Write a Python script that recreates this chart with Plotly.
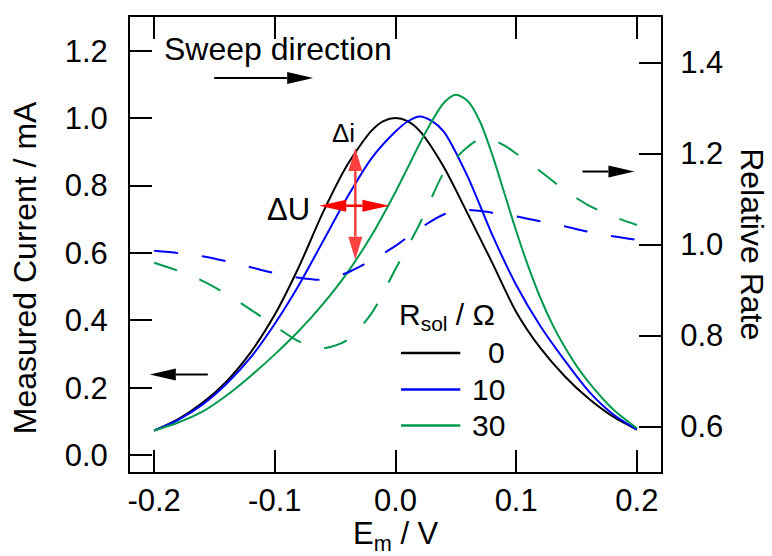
import plotly.graph_objects as go

# ---------------- data ----------------
x_tick_vals = [-0.2, -0.1, 0.0, 0.1, 0.2]
x_tick_text = ["-0.2", "-0.1", "0.0", "0.1", "0.2"]
yl_tick_vals = [0.0, 0.2, 0.4, 0.6, 0.8, 1.0, 1.2]
yl_tick_text = ["0.0", "0.2", "0.4", "0.6", "0.8", "1.0", "1.2"]
yr_tick_vals = [0.6, 0.8, 1.0, 1.2, 1.4]
yr_tick_text = ["0.6", "0.8", "1.0", "1.2", "1.4"]

series_names = ["0", "10", "30"]
series_colors = ["#000000", "#0000ff", "#009a4e"]

# Measured current (left axis), mA
E_black = [-0.20, -0.18, -0.16, -0.14, -0.12, -0.10, -0.08, -0.06, -0.04, -0.02, -0.01, 0.00,
           0.01, 0.02, 0.04, 0.06, 0.08, 0.10, 0.12, 0.14, 0.16, 0.18, 0.20]
I_black = [0.073, 0.107, 0.155, 0.219, 0.305, 0.417, 0.559, 0.721, 0.861, 0.962, 0.991, 1.000,
           0.991, 0.962, 0.855, 0.715, 0.572, 0.425, 0.318, 0.235, 0.168, 0.115, 0.076]

E_blue = [-0.20, -0.18, -0.16, -0.14, -0.12, -0.10, -0.08, -0.06, -0.04, -0.02, 0.00, 0.01,
          0.02, 0.03, 0.04, 0.06, 0.08, 0.10, 0.12, 0.14, 0.16, 0.18, 0.20]
I_blue = [0.073, 0.105, 0.150, 0.212, 0.290, 0.390, 0.505, 0.635, 0.765, 0.880, 0.960, 0.990,
          1.005, 0.992, 0.960, 0.825, 0.655, 0.505, 0.383, 0.282, 0.190, 0.122, 0.076]

E_green = [-0.20, -0.18, -0.16, -0.14, -0.12, -0.10, -0.08, -0.06, -0.04, -0.02, 0.00, 0.01, 0.02,
           0.03, 0.04, 0.05, 0.06, 0.07, 0.08, 0.09, 0.10, 0.11, 0.12, 0.13, 0.14, 0.15, 0.16, 0.18, 0.20]
I_green = [0.073, 0.097, 0.129, 0.177, 0.235, 0.299, 0.369, 0.449, 0.541, 0.651, 0.781, 0.852, 0.924,
           0.990, 1.045, 1.069, 1.050, 0.990, 0.893, 0.780, 0.665, 0.560, 0.467, 0.388, 0.322, 0.265,
           0.217, 0.137, 0.080]

# Relative rate (right axis)
E_rate_blue = [-0.20, -0.18, -0.16, -0.14, -0.12, -0.10, -0.08, -0.06, -0.04, -0.02, 0.00, 0.02,
               0.04, 0.06, 0.08, 0.10, 0.12, 0.14, 0.16, 0.18, 0.20]
R_blue = [0.986, 0.981, 0.974, 0.963, 0.950, 0.937, 0.927, 0.923, 0.938, 0.965, 0.997, 1.035,
          1.066, 1.076, 1.070, 1.062, 1.051, 1.040, 1.028, 1.018, 1.010]

E_rate_green = [-0.20, -0.18, -0.16, -0.14, -0.12, -0.10, -0.08, -0.06, -0.04, -0.02, 0.00, 0.02,
                0.04, 0.05, 0.06, 0.07, 0.08, 0.09, 0.10, 0.12, 0.14, 0.16, 0.18, 0.20]
R_green = [0.960, 0.942, 0.920, 0.891, 0.857, 0.821, 0.787, 0.772, 0.790, 0.848, 0.946, 1.045,
           1.158, 1.190, 1.215, 1.232, 1.230, 1.218, 1.200, 1.161, 1.120, 1.086, 1.062, 1.043]

FONT = "Liberation Sans, Arial, sans-serif"
FS = 31

fig = go.Figure()

for E, I, c, n in [(E_black, I_black, series_colors[0], series_names[0]),
                   (E_blue, I_blue, series_colors[1], series_names[1]),
                   (E_green, I_green, series_colors[2], series_names[2])]:
    fig.add_trace(go.Scatter(x=E, y=I, mode="lines", name=n,
                             line=dict(color=c, width=2, shape="spline", smoothing=0.8)))

for E, R, c in [(E_rate_blue, R_blue, series_colors[1]), (E_rate_green, R_green, series_colors[2])]:
    fig.add_trace(go.Scatter(x=E, y=R, mode="lines", yaxis="y2", showlegend=False,
                             line=dict(color=c, width=2, dash="24px,24px", shape="spline", smoothing=0.8)))

axis_common = dict(showgrid=False, zeroline=False, showline=True, linecolor="black", linewidth=2,
                   ticks="inside", ticklen=22, tickwidth=2, tickcolor="black",
                   tickfont=dict(family=FONT, size=FS, color="black"))

fig.update_layout(
    width=772, height=556,
    margin=dict(l=130, r=111, t=17, b=84),
    paper_bgcolor="white", plot_bgcolor="white",
    showlegend=False,
    font=dict(family=FONT, size=FS, color="black"),
    xaxis=dict(range=[-0.22, 0.22], tickvals=x_tick_vals, ticktext=x_tick_text,
               mirror="ticks", ticklabelstandoff=0, **axis_common),
    yaxis=dict(range=[-0.05, 1.3], tickvals=yl_tick_vals, ticktext=yl_tick_text,
               ticklabelstandoff=14, **axis_common),
    yaxis2=dict(range=[0.5, 1.5], tickvals=yr_tick_vals, ticktext=yr_tick_text,
                overlaying="y", side="right", ticklabelstandoff=11, **axis_common),
)

shapes = []


def arrow(xtip, ytip, direction, total, head_len, half_w, color, width=2):
    """Arrow anchored at its tip (data coords); sizes in pixels."""
    if direction == "right":
        line = dict(x0=-total, x1=-head_len, y0=0, y1=0)
        path = f"M0,0 L{-head_len},{half_w} L{-head_len},{-half_w} Z"
    elif direction == "left":
        line = dict(x0=total, x1=head_len, y0=0, y1=0)
        path = f"M0,0 L{head_len},{half_w} L{head_len},{-half_w} Z"
    elif direction == "up":
        line = dict(x0=0, x1=0, y0=-total, y1=-head_len)
        path = f"M0,0 L{-half_w},{-head_len} L{half_w},{-head_len} Z"
    else:  # down
        line = dict(x0=0, x1=0, y0=total, y1=head_len)
        path = f"M0,0 L{-half_w},{head_len} L{half_w},{head_len} Z"
    common = dict(xref="x", yref="y", xsizemode="pixel", ysizemode="pixel", xanchor=xtip, yanchor=ytip)
    shapes.append(dict(type="line", line=dict(color=color, width=width), **line, **common))
    shapes.append(dict(type="path", path=path, fillcolor=color, line=dict(width=0), **common))


# sweep direction arrow, left-axis arrow, right-axis arrow
arrow(-0.0682, 1.119, "right", 99, 26, 6, "black")
arrow(-0.2036, 0.239, "left", 58, 26, 6, "black")
arrow(0.198, 0.8415, "right", 52, 26, 6, "black")
# red double arrows (delta i, delta U)
arrow(-0.0333, 0.911, "up", 56, 23, 7, "#ff4040", 2.5)
arrow(-0.0333, 0.580, "down", 56, 23, 7, "#ff4040", 2.5)
arrow(-0.0632, 0.740, "left", 35, 27, 6, "#ff0000", 2.5)
arrow(-0.0051, 0.740, "right", 35, 27, 6, "#ff0000", 2.5)

# manual legend samples
legend_y = [0.3034, 0.1947, 0.088]
for yy, c in zip(legend_y, series_colors):
    shapes.append(dict(type="line", xref="x", yref="y", x0=0.0046, x1=0.0537, y0=yy, y1=yy,
                       line=dict(color=c, width=2.5)))

fig.update_layout(shapes=shapes)

ann = []
ann.append(dict(text="Sweep direction", x=-0.1934, y=1.205, xref="x", yref="y", xanchor="left",
                yanchor="middle", showarrow=False, font=dict(size=32)))
ann.append(dict(text="Δi", x=-0.0320, y=0.955, xref="x", yref="y", xanchor="right",
                yanchor="middle", showarrow=False, font=dict(size=26)))
ann.append(dict(text="ΔU", x=-0.0690, y=0.728, xref="x", yref="y", xanchor="right",
                yanchor="middle", showarrow=False, font=dict(size=31)))
ann.append(dict(text="R<sub>sol</sub> / Ω", x=0.0015, y=0.41, xref="x", yref="y", xanchor="left",
                yanchor="middle", showarrow=False, font=dict(size=30)))
for yy, n in zip(legend_y, series_names):
    ann.append(dict(text=n, x=0.0927, y=yy, xref="x", yref="y", xanchor="right",
                    yanchor="middle", showarrow=False, font=dict(size=30)))
# axis titles
ann.append(dict(text="Measured Current / mA", x=-0.1977, y=0.448, xref="paper", yref="paper",
                textangle=-90, xanchor="center", yanchor="middle", showarrow=False, font=dict(size=32)))
ann.append(dict(text="Relative Rate", x=1.172, y=0.50, xref="paper", yref="paper",
                textangle=90, xanchor="center", yanchor="middle", showarrow=False, font=dict(size=32)))
ann.append(dict(text="E<sub>m</sub> / V", x=0.501, y=-0.141, xref="paper", yref="paper",
                xanchor="center", yanchor="middle", showarrow=False, font=dict(size=31)))
fig.update_layout(annotations=ann)

fig.write_html("out.html", config={"displayModeBar": False},
               post_script="document.body.style.margin='0px';")
